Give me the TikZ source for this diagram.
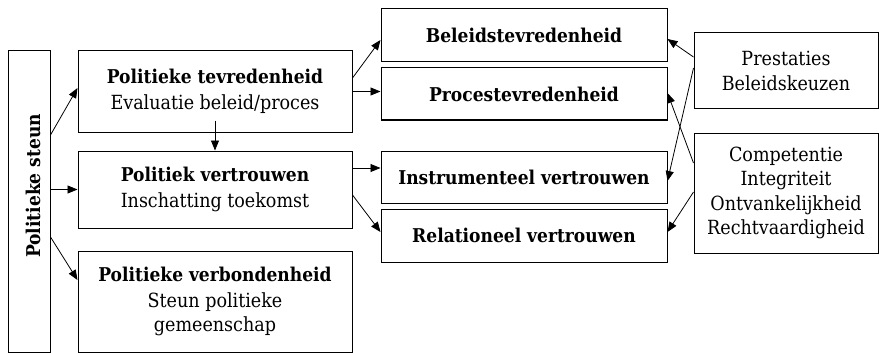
\documentclass[tikz,border=0pt]{standalone}
\usepackage{fontspec}
\setmainfont{DejaVu Serif Condensed}
\usetikzlibrary{arrows.meta}
\newcommand{\bsz}{\fontsize{19}{26}\selectfont\bfseries}
\begin{document}
\begin{tikzpicture}[x=1pt,y=-1pt,
  box/.style={draw,line width=1pt,inner sep=0pt,align=center,font=\fontsize{19.5}{24.5}\selectfont},
  bt/.style={font=\bsz},
  arr/.style={line width=0.8pt,-{Triangle[length=10pt,width=8pt]}}]
\useasboundingbox (0,0) rectangle (879,353);
% left vertical box
\node[box,minimum width=42pt,minimum height=301pt] (steun) at (29,201.5) {};
\node[bt,rotate=90] (steunlbl) at (33,186) {Politieke steun};
% middle column
\node[box,minimum width=274pt,minimum height=81pt] (tev) at (215,91.5)
  {{\bsz Politieke tevredenheid}\\[1pt]Evaluatie beleid/proces};
\node[box,minimum width=274pt,minimum height=77pt] (vert) at (215,189.5)
  {{\bsz Politiek vertrouwen}\\[1pt]Inschatting toekomst};
\node[box,minimum width=274pt,minimum height=101pt] (verb) at (215,301.5)
  {{\bsz Politieke verbondenheid}\\[1pt]Steun politieke\\gemeenschap};
% second column
\node[box,minimum width=286pt,minimum height=53pt] (bel) at (524,35.5) {\bsz Beleidstevredenheid};
\node[box,minimum width=286pt,minimum height=52pt] (proc) at (524,94) {\bsz Procestevredenheid};
\node[box,minimum width=286pt,minimum height=52pt] (instr) at (524,177) {\bsz Instrumenteel vertrouwen};
\node[box,minimum width=286pt,minimum height=53pt] (rel) at (524,235.5) {\bsz Relationeel vertrouwen};
% right column
\node[box,minimum width=184pt,minimum height=76pt] (prest) at (786,71) {Prestaties\\Beleidskeuzen};
\node[box,minimum width=184pt,minimum height=120pt] (comp) at (786,193) {Competentie\\Integriteit\\Ontvankelijkheid\\Rechtvaardigheid};
% connectors
\draw[arr] ([yshift=66.5pt]steun.east) -- ([yshift=3.5pt]tev.west);
\draw[arr] (steun.east |- vert.west) -- (vert.west);
\draw[arr] ([yshift=-35.5pt]steun.east) -- ([yshift=21.5pt]verb.west);
\draw[arr] ([yshift=12pt]tev.south) -- (vert.north);
\draw[arr] ([yshift=13.5pt]tev.east) -- ([yshift=-4.5pt]bel.west);
\draw[arr] (tev.east) -- (tev.east -| proc.west);
\coordinate (vi) at ([yshift=21.5pt]vert.east);
\draw[arr] (vi) -- (vi -| instr.west);
\draw[arr] ([yshift=-5.5pt]vert.east) -- ([yshift=3.5pt]rel.west);
\draw[arr] ([yshift=14pt]prest.west) -- ([yshift=-3.5pt]bel.east);
\draw[arr] ([yshift=3pt]prest.west) -- ([yshift=-4pt]instr.east);
\draw[arr] ([yshift=30pt]comp.west) -- ([yshift=1pt]proc.east);
\draw[arr] ([yshift=1pt]comp.west) -- ([yshift=3.5pt]rel.east);
\end{tikzpicture}
\end{document}
